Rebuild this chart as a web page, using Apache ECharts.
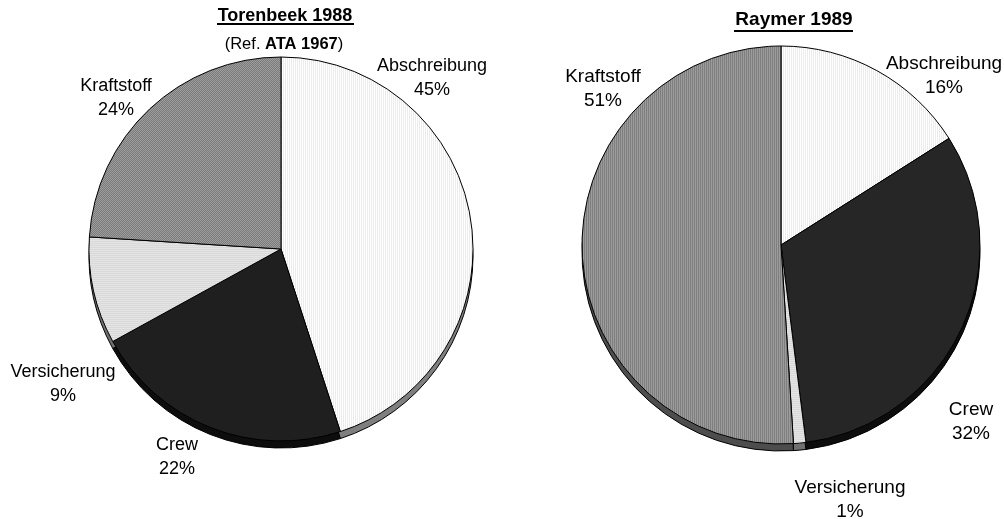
<!DOCTYPE html>
<html>
<head>
<meta charset="utf-8">
<script src="https://cdn.jsdelivr.net/npm/echarts@6/dist/echarts.min.js"></script>
<style>
html, body { margin: 0; padding: 0; background: #fff; }
#chart { width: 1004px; height: 519px; }
</style>
</head>
<body>
<div id="chart"></div>
<script>
// Kostenanteile (%)
const categories = ['Abschreibung', 'Crew', 'Versicherung', 'Kraftstoff'];
const torenbeekValues = [45, 22, 9, 24];
const raymerValues = [16, 32, 1, 51];

// Label-Positionen (Mitte des zweizeiligen Textblocks)
const torenbeekLabelPos = [[432, 78], [177, 457], [63, 384], [116, 98]];
const raymerLabelPos = [[944, 76], [971, 422], [850, 500], [603, 89]];

const FONT = '"Liberation Sans", Arial, sans-serif';
const DEPTH = 7; // Höhe des 3D-Rands

// kleine Kachelmuster für die Flächen
function pattern(w, h, draw) {
  const c = document.createElement('canvas');
  c.width = w;
  c.height = h;
  draw(c.getContext('2d'));
  return { image: c, repeat: 'repeat' };
}

const vStripes = (a, b) => pattern(2, 2, ctx => {
  ctx.fillStyle = a; ctx.fillRect(0, 0, 1, 2);
  ctx.fillStyle = b; ctx.fillRect(1, 0, 1, 2);
});
const hStripes = (a, b) => pattern(2, 2, ctx => {
  ctx.fillStyle = a; ctx.fillRect(0, 0, 2, 1);
  ctx.fillStyle = b; ctx.fillRect(0, 1, 2, 1);
});
const checker = (a, b) => pattern(2, 2, ctx => {
  ctx.fillStyle = a; ctx.fillRect(0, 0, 2, 2);
  ctx.fillStyle = b; ctx.fillRect(0, 0, 1, 1); ctx.fillRect(1, 1, 1, 1);
});

const leftFills = [vStripes('#ffffff', '#ececec'), '#1f1f1f', hStripes('#e4e4e4', '#d9d9d9'), checker('#7a7a7a', '#9e9e9e')];
const rightFills = [vStripes('#ffffff', '#ececec'), '#262626', hStripes('#e4e4e4', '#d9d9d9'), vStripes('#7e7e7e', '#9c9c9c')];
const sideFills = ['#7f7f7f', '#0d0d0d', '#707070', '#4d4d4d'];

function buildPie(values, center, r, fills, labelPos, fontSize) {
  const common = {
    type: 'pie',
    radius: r,
    startAngle: 90,
    clockwise: true,
    avoidLabelOverlap: false,
    labelLine: { show: false },
    itemStyle: { borderColor: '#000', borderWidth: 1 }
  };
  // Seitenfläche (3D-Rand)
  const side = {
    ...common,
    center: [center[0], center[1] + DEPTH],
    silent: true,
    z: 1,
    label: { show: false },
    data: categories.map((name, i) => ({ name, value: values[i], itemStyle: { color: sideFills[i] } }))
  };
  const top = {
    ...common,
    center: center,
    z: 2,
    label: {
      show: true,
      position: 'outside',
      formatter: '{b}\n{c}%',
      color: '#000',
      fontFamily: FONT,
      fontSize: fontSize,
      lineHeight: 24,
      align: 'center'
    },
    labelLayout: params => ({
      x: labelPos[params.dataIndex][0],
      y: labelPos[params.dataIndex][1],
      align: 'center',
      verticalAlign: 'middle'
    }),
    data: categories.map((name, i) => ({ name, value: values[i], itemStyle: { color: fills[i] } }))
  };
  return [side, top];
}

const chart = echarts.init(document.getElementById('chart'));

chart.setOption({
  animation: false,
  backgroundColor: '#fff',
  graphic: [
    {
      type: 'text', x: 285, y: 16,
      style: { text: 'Torenbeek 1988', fontFamily: FONT, fontSize: 18, fontWeight: 'bold', fill: '#000', align: 'center', verticalAlign: 'middle' }
    },
    { type: 'line', shape: { x1: 217, y1: 24, x2: 354, y2: 24 }, style: { stroke: '#000', lineWidth: 2 } },
    {
      type: 'text', x: 284, y: 44,
      style: {
        text: '(Ref. {b|ATA 1967})',
        fontFamily: FONT, fontSize: 16.5, fill: '#000', align: 'center', verticalAlign: 'middle',
        rich: { b: { fontFamily: FONT, fontSize: 16.5, fontWeight: 'bold', fill: '#000' } }
      }
    },
    {
      type: 'text', x: 794, y: 20,
      style: { text: 'Raymer 1989', fontFamily: FONT, fontSize: 19, fontWeight: 'bold', fill: '#000', align: 'center', verticalAlign: 'middle' }
    },
    { type: 'line', shape: { x1: 734, y1: 31, x2: 853, y2: 31 }, style: { stroke: '#000', lineWidth: 2 } }
  ],
  series: [
    ...buildPie(torenbeekValues, [281, 249], 192, leftFills, torenbeekLabelPos, 18),
    ...buildPie(raymerValues, [781, 245], 199, rightFills, raymerLabelPos, 19)
  ]
});

window.addEventListener('resize', () => chart.resize());
</script>
</body>
</html>
